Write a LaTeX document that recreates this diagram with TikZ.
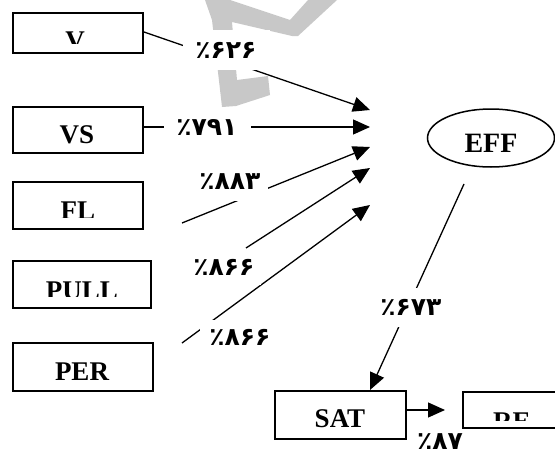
\documentclass[tikz,border=0pt]{standalone}
\usepackage{fontspec}
\setmainfont{Liberation Serif}
\newfontfamily\perfont{DejaVu Sans}
\usetikzlibrary{arrows.meta,shapes.geometric}
\definecolor{wm}{RGB}{200,200,200}
\begin{document}
\begin{tikzpicture}[x=1pt,y=-1pt,
  box/.style={draw, line width=2pt, rectangle, inner sep=0pt},
  boxtext/.style={font=\fontsize{27}{27}\selectfont\bfseries, anchor=base, inner sep=0pt},
  conn/.style={line width=1.3pt},
  arr/.style={conn, -{Triangle[length=17pt,width=15pt]}},
  lab/.style={font=\perfont\bfseries\fontsize{25}{25}\selectfont, fill=white, inner sep=0pt},
]
\useasboundingbox (0,0) rectangle (555,455);
% watermark
\fill[wm] (205,0) -- (230,0) -- (290,20) -- (308,0) -- (337,0) -- (298,36) -- (292,36)
  -- (232,22) -- (237,80) -- (268,76) -- (270,95) -- (236,106) -- (222,107) -- (212,20) -- cycle;

% boxes
\node[box, minimum width=130pt, minimum height=40pt] (v) at (78,33) {};
\node[box, minimum width=130pt, minimum height=46pt] (vs) at (78,130) {};
\node[box, minimum width=130pt, minimum height=47pt] (fl) at (78,205.5) {};
\node[box, minimum width=138pt, minimum height=47pt] (pull) at (82,284.5) {};
\node[box, minimum width=140pt, minimum height=48pt] (per) at (83,367) {};
\node[box, minimum width=131pt, minimum height=48pt] (sat) at (340.5,415) {};
\node[box, minimum width=102pt, minimum height=36pt] (re) at (514,410) {};
\node[draw, ellipse, line width=1.5pt, inner sep=0pt, minimum width=127pt, minimum height=58pt,
  font=\fontsize{28}{28}\selectfont\bfseries, text height=28pt, text depth=0pt] (eff) at (491,138) {EFF};

% box texts (some cut off at the bottom, as in the reference)
\begin{scope}
  \clip (14,14) rectangle (142,43);
  \node[boxtext] (vt) at (75,49) {V};
\end{scope}
\node[boxtext] (vst) at (77,143) {VS};
\begin{scope}
  \clip (14,183) rectangle (142,217.5);
  \node[boxtext] (flt) at (78,219) {FL};
\end{scope}
\begin{scope}
  \clip (14,262) rectangle (150,296.5);
  \node[boxtext] (pullt) at (82,299) {PULL};
\end{scope}
\node[boxtext] (pert) at (82,380) {PER};
\node[boxtext] (satt) at (340,427) {SAT};
\begin{scope}
  \clip (464,393) rectangle (565,420);
  \node[boxtext] (ret) at (512,430) {RE};
\end{scope}

% connector end points
\coordinate (t1) at (370,110);
\coordinate (t2) at (370,127);
\coordinate (s3) at (182,223);
\coordinate (t3) at (370,147);
\coordinate (s4) at (246,248);
\coordinate (t4) at (370,168);
\coordinate (s5) at (182,343);
\coordinate (t5) at (370,205);
\coordinate (s6) at (464,184);
\coordinate (t6) at (370,390);
\coordinate (t7) at (445,410);

% connectors
\draw[arr] (v.east |- 0,32) -- (t1);
\draw[arr] (vs.east |- t2) -- (t2);
\draw[arr] (s3) -- (t3);
\draw[arr] (s4) -- (t4);
\draw[arr] (s5) -- (t5);
\draw[arr] (s6) -- (t6);
\draw[arr] (sat.east |- t7) -- (t7);

% labels
\node[lab, minimum width=87pt, minimum height=40pt] (l1) at (226,50) {٪۶۲۶};
\node[lab, minimum width=87pt, minimum height=30pt] (l2) at (207,127) {٪۷۹۱};
\node[lab, minimum width=76pt, minimum height=38pt] (l3) at (230,182) {٪۸۸۳};
\node[lab, minimum width=74pt, minimum height=36pt] (l4) at (224,267) {٪۸۶۶};
\node[lab, minimum width=80pt, minimum height=35pt] (l5) at (240,337) {٪۸۶۶};
\node[lab, minimum width=52pt, minimum height=39pt] (l6) at (411,307) {٪۶۷۳};
\node[lab, fill=none] (l7) at (440,442) {٪۸۷};
\end{tikzpicture}
\end{document}
